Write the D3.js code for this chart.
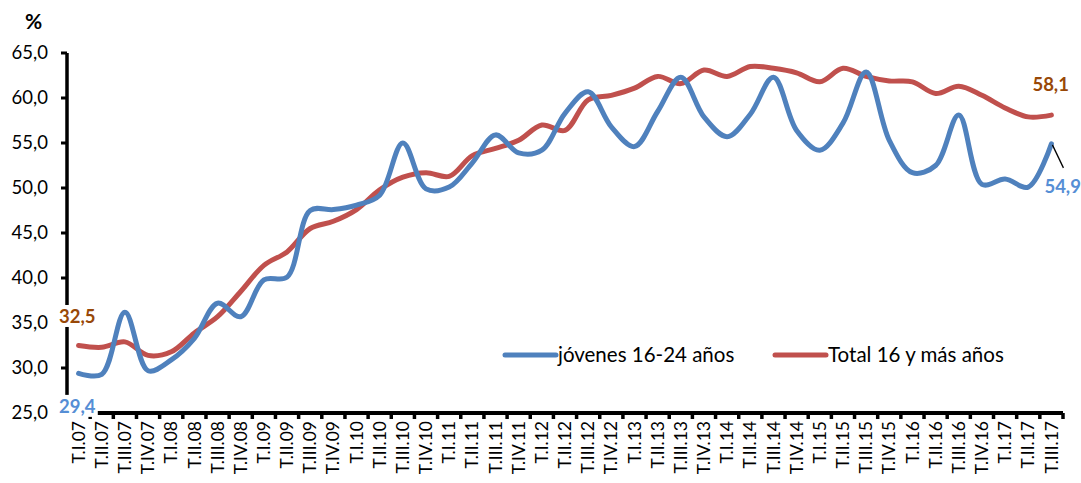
<!DOCTYPE html>
<html>
<head>
<meta charset="utf-8">
<script src="https://cdn.jsdelivr.net/npm/d3@7"></script>
<style>
body{margin:0;background:#fff;}
svg{font-family:Lato,"Open Sans",sans-serif;}
</style>
</head>
<body>
<svg class="chart" width="1081" height="483"></svg>
<script>
var quarters = ["T.I.07","T.II.07","T.III.07","T.IV.07","T.I.08","T.II.08","T.III.08","T.IV.08",
	"T.I.09","T.II.09","T.III.09","T.IV.09","T.I.10","T.II.10","T.III.10","T.IV.10",
	"T.I.11","T.II.11","T.III.11","T.IV.11","T.I.12","T.II.12","T.III.12","T.IV.12",
	"T.I.13","T.II.13","T.III.13","T.IV.13","T.I.14","T.II.14","T.III.14","T.IV.14",
	"T.I.15","T.II.15","T.III.15","T.IV.15","T.I.16","T.II.16","T.III.16","T.IV.16",
	"T.I.17","T.II.17","T.III.17"];
var jovenes = [29.4,29.3,36.2,29.7,30.9,33.3,37.2,35.7,39.8,40.1,47.5,47.6,48.1,49.2,55.0,49.9,
	50.1,52.8,55.9,53.9,54.2,58.3,60.7,56.8,54.6,58.5,62.3,57.9,55.7,58.2,62.3,56.4,
	54.2,57.2,62.9,55.3,51.7,52.5,58.1,50.4,51.0,50.1,54.9];
var total = [32.5,32.3,32.9,31.4,31.8,33.9,35.7,38.5,41.4,42.9,45.5,46.3,47.6,49.8,51.2,51.7,
	51.3,53.6,54.4,55.3,57.0,56.4,59.8,60.3,61.1,62.4,61.6,63.1,62.4,63.5,63.3,62.8,
	61.8,63.3,62.4,61.9,61.8,60.5,61.3,60.3,58.9,57.9,58.1];
var yTicks = [25,30,35,40,45,50,55,60,65];
var seriesNames = ["jóvenes 16-24 años","Total 16 y más años"];

var margin = {top:53, right:18, bottom:70, left:67},
	width = 1081 - margin.left - margin.right,
	height = 483 - margin.top - margin.bottom;
var blue = "#4F81BD", red = "#C0504D", blueLab = "#558ED5", redLab = "#984807";
var fmt = function(v){ return d3.format(".1f")(v).replace(".", ","); };

var chart = d3.select('.chart').append('g')
	.attr('transform','translate(' + margin.left + ',' + margin.top + ')');

var x = d3.scaleBand().domain(quarters).range([0,width]);
var y = d3.scaleLinear().domain([25,65]).range([height,0]);

// y axis
chart.append('line').attr('x1',0).attr('x2',0).attr('y1',y(65)).attr('y2',y(25))
	.attr('stroke','#000').attr('stroke-width',3.5);
chart.selectAll('.ytick').data(yTicks).enter().append('line')
	.attr('x1',-6).attr('x2',0).attr('y1',function(d){ return y(d); }).attr('y2',function(d){ return y(d); })
	.attr('stroke','#000').attr('stroke-width',3);
chart.selectAll('.ylab').data(yTicks).enter().append('text')
	.attr('x',-19).attr('y',function(d){ return y(d); }).attr('dy','0.35em')
	.attr('text-anchor','end').style('font-size','18.5px').text(fmt);
chart.append('text').attr('x',-42).attr('y',-24).style('font-size','21px').style('font-weight','bold').text('%');

// x axis
chart.append('line').attr('x1',0).attr('x2',width).attr('y1',height).attr('y2',height)
	.attr('stroke','#000').attr('stroke-width',4);
chart.selectAll('.xtick').data(quarters).enter().append('line')
	.attr('x1',function(d){ return x(d) + x.bandwidth(); }).attr('x2',function(d){ return x(d) + x.bandwidth(); })
	.attr('y1',height).attr('y2',height + 6)
	.attr('stroke','#000').attr('stroke-width',3.5);
chart.selectAll('.xlab').data(quarters).enter().append('text')
	.attr('transform',function(d){ return 'translate(' + (x(d) + x.bandwidth()/2) + ',' + (height + 8) + ') rotate(-90)'; })
	.attr('dy','0.35em').attr('text-anchor','end').style('font-size','17.5px').text(function(d){ return d; });

// lines
var line = d3.line()
	.x(function(d,i){ return x(quarters[i]) + x.bandwidth()/2; })
	.y(function(d){ return y(d); })
	.curve(d3.curveCatmullRom.alpha(0.5));

chart.append('path').datum(total).attr('fill','none').attr('stroke',red)
	.attr('stroke-width',5).attr('stroke-linejoin','round').attr('stroke-linecap','round').attr('d',line);
chart.append('path').datum(jovenes).attr('fill','none').attr('stroke',blue)
	.attr('stroke-width',5).attr('stroke-linejoin','round').attr('stroke-linecap','round').attr('d',line);

// data labels
var cx = function(i){ return x(quarters[i]) + x.bandwidth()/2; };
function label(tx, ty, txt, col){
	var t = chart.append('text').attr('x',tx).attr('y',ty).attr('dy','0.35em')
		.style('font-size','18.5px').style('font-weight','bold').style('fill',col).text(txt);
	var b = t.node().getBBox();
	chart.insert('rect', function(){ return t.node(); })
		.attr('x',b.x - 2).attr('y',b.y).attr('width',b.width + 4).attr('height',b.height).attr('fill','#fff');
}
label(-8, y(total[0]) - 29, fmt(total[0]), redLab);
label(-8, y(jovenes[0]) + 33, fmt(jovenes[0]), blueLab);
var last = quarters.length - 1;
label(cx(last) - 19, y(total[last]) - 31, fmt(total[last]), redLab);
chart.append('line').attr('x1',cx(last) + 1).attr('y1',y(jovenes[last]) + 1)
	.attr('x2',cx(last) + 12).attr('y2',y(jovenes[last]) + 24).attr('stroke','#000').attr('stroke-width',1.3);
label(cx(last) - 7, y(jovenes[last]) + 43, fmt(jovenes[last]), blueLab);

// legend
var legend = chart.selectAll('.legend').data(seriesNames).enter().append('g')
	.attr('transform',function(d,i){ return 'translate(' + (438 + i*270) + ',' + 302 + ')'; });
legend.append('line').attr('x1',0).attr('x2',51).attr('y1',0).attr('y2',0)
	.attr('stroke',function(d,i){ return i === 0 ? blue : red; }).attr('stroke-width',5).attr('stroke-linecap','round');
legend.append('text').attr('x',53).attr('dy','0.35em').style('font-size','20.5px').text(function(d){ return d; });
</script>
</body>
</html>
